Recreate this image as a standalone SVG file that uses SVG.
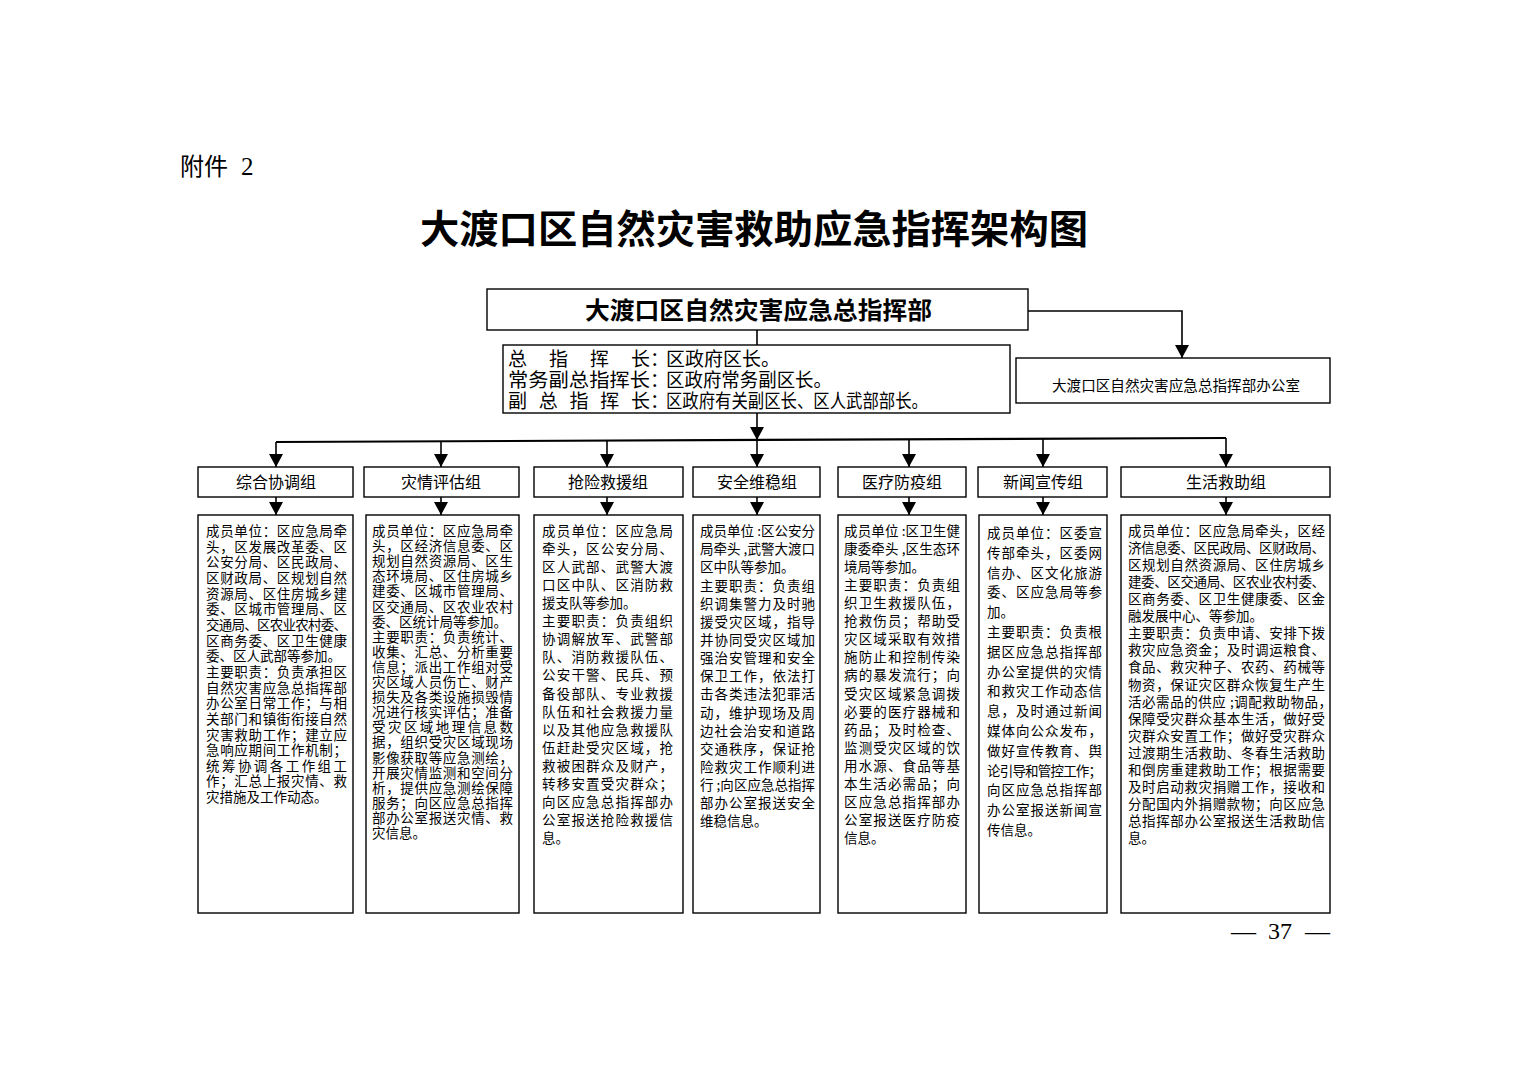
<svg xmlns="http://www.w3.org/2000/svg" width="1520" height="1074" viewBox="0 0 1520 1074">
<style>
.bx{fill:#fff;stroke:#000;stroke-width:1.4}
.t{font-family:"Noto Sans CJK SC","Noto Sans CJK TC",sans-serif;font-size:13.5px;fill:#000}
.g{font-family:"Noto Sans CJK SC","Noto Sans CJK TC",sans-serif;font-size:16px;fill:#000;text-anchor:middle}
.ld{font-family:"Noto Sans CJK SC","Noto Sans CJK TC",sans-serif;font-size:19px;fill:#000}
.hd{font-family:"Noto Sans CJK SC","Noto Sans CJK TC",sans-serif;font-weight:bold;fill:#000}
.conn{stroke:#000;stroke-width:1.6;fill:none}
</style>
<defs>
<marker id="ah" markerUnits="userSpaceOnUse" markerWidth="13" markerHeight="14" viewBox="0 0 13 14" refX="13" refY="7" orient="auto">
<path d="M0,0 L13,7 L0,14 z" fill="#000"/>
</marker>
</defs>
<rect width="1520" height="1074" fill="#fff"/>

<text x="180" y="175" style="font-family:'Noto Sans CJK SC',sans-serif;font-size:24px">附件</text>
<text x="241" y="175" style="font-family:'Liberation Serif',serif;font-size:25px">2</text>
<text x="420" y="243" class="hd" style="font-size:39px" textLength="668" lengthAdjust="spacingAndGlyphs">大渡口区自然灾害救助应急指挥架构图</text>

<g id="connectors">
<path class="conn" d="M757,330 V345"/>
<path class="conn" d="M757,413 V440" marker-end="url(#ah)"/>
<path class="conn" d="M1028,311 H1182 V358" marker-end="url(#ah)"/>
<path d="M276,442 L1226,438" stroke="#000" stroke-width="2.2" fill="none"/>
<path class="conn" d="M276,442 V467" marker-end="url(#ah)"/>
<path class="conn" d="M441,441.3 V467" marker-end="url(#ah)"/>
<path class="conn" d="M607,440.6 V467" marker-end="url(#ah)"/>
<path class="conn" d="M757,440 V467" marker-end="url(#ah)"/>
<path class="conn" d="M909,439.3 V467" marker-end="url(#ah)"/>
<path class="conn" d="M1043,438.8 V467" marker-end="url(#ah)"/>
<path class="conn" d="M1226,438 V467" marker-end="url(#ah)"/>
<path class="conn" d="M276,497 V515" marker-end="url(#ah)"/>
<path class="conn" d="M441,497 V515" marker-end="url(#ah)"/>
<path class="conn" d="M607,497 V515" marker-end="url(#ah)"/>
<path class="conn" d="M757,497 V515" marker-end="url(#ah)"/>
<path class="conn" d="M909,497 V515" marker-end="url(#ah)"/>
<path class="conn" d="M1043,497 V515" marker-end="url(#ah)"/>
<path class="conn" d="M1226,497 V515" marker-end="url(#ah)"/>
</g>

<g id="hq">
<rect class="bx" x="487" y="289" width="541" height="41"/>
<text x="585" y="319" class="hd" style="font-size:24px" textLength="347" lengthAdjust="spacingAndGlyphs">大渡口区自然灾害应急总指挥部</text>
</g>

<g id="leaders">
<rect class="bx" x="503" y="345" width="507" height="68"/>
<text x="508" y="366" class="ld" textLength="142" lengthAdjust="spacing">总指挥长</text>
<text x="650" y="366" class="ld">：</text>
<text x="666" y="366" class="ld">区政府区长。</text>
<text x="508" y="387" class="ld" textLength="142" lengthAdjust="spacingAndGlyphs">常务副总指挥长</text>
<text x="650" y="387" class="ld">：</text>
<text x="666" y="387" class="ld" textLength="166" lengthAdjust="spacingAndGlyphs">区政府常务副区长。</text>
<text x="508" y="408" class="ld" textLength="142" lengthAdjust="spacing">副总指挥长</text>
<text x="650" y="408" class="ld">：</text>
<text x="666" y="408" class="ld" textLength="262" lengthAdjust="spacingAndGlyphs">区政府有关副区长、区人武部部长。</text>
</g>

<g id="office">
<rect class="bx" x="1016" y="358" width="314" height="45"/>
<text x="1052" y="391" class="t" style="font-size:14.5px" textLength="248" lengthAdjust="spacingAndGlyphs">大渡口区自然灾害应急总指挥部办公室</text>
</g>

<g id="grp1">
<rect class="bx" x="198" y="467" width="155" height="30"/>
<text x="276" y="488" class="g">综合协调组</text>
</g>
<g id="grp2">
<rect class="bx" x="364" y="467" width="155" height="30"/>
<text x="441" y="488" class="g">灾情评估组</text>
</g>
<g id="grp3">
<rect class="bx" x="534" y="467" width="149" height="30"/>
<text x="608" y="488" class="g">抢险救援组</text>
</g>
<g id="grp4">
<rect class="bx" x="693" y="467" width="127" height="30"/>
<text x="757" y="488" class="g">安全维稳组</text>
</g>
<g id="grp5">
<rect class="bx" x="838" y="467" width="128" height="30"/>
<text x="902" y="488" class="g">医疗防疫组</text>
</g>
<g id="grp6">
<rect class="bx" x="978" y="467" width="129" height="30"/>
<text x="1043" y="488" class="g">新闻宣传组</text>
</g>
<g id="grp7">
<rect class="bx" x="1121" y="467" width="209" height="30"/>
<text x="1226" y="488" class="g">生活救助组</text>
</g>

<g id="duty1">
<rect class="bx" x="198" y="515" width="155" height="398"/>
<text class="t" x="206" y="536" textLength="141">成员单位：区应急局牵</text>
<text class="t" x="206" y="551.7" textLength="141">头，区发展改革委、区</text>
<text class="t" x="206" y="567.3" textLength="141">公安分局、区民政局、</text>
<text class="t" x="206" y="583" textLength="141">区财政局、区规划自然</text>
<text class="t" x="206" y="598.6" textLength="141">资源局、区住房城乡建</text>
<text class="t" x="206" y="614.3" textLength="141">委、区城市管理局、区</text>
<text class="t" x="206" y="629.9" textLength="141">交通局、区农业农村委、</text>
<text class="t" x="206" y="645.6" textLength="141">区商务委、区卫生健康</text>
<text class="t" x="206" y="661.2">委、区人武部等参加。</text>
<text class="t" x="206" y="676.9" textLength="141">主要职责：负责承担区</text>
<text class="t" x="206" y="692.5" textLength="141">自然灾害应急总指挥部</text>
<text class="t" x="206" y="708.2" textLength="141">办公室日常工作；与相</text>
<text class="t" x="206" y="723.8" textLength="141">关部门和镇街衔接自然</text>
<text class="t" x="206" y="739.5" textLength="141">灾害救助工作；建立应</text>
<text class="t" x="206" y="755.1" textLength="141">急响应期间工作机制；</text>
<text class="t" x="206" y="770.8" textLength="141">统筹协调各工作组工</text>
<text class="t" x="206" y="786.4" textLength="141">作；汇总上报灾情、救</text>
<text class="t" x="206" y="802.1">灾措施及工作动态。</text>
</g>

<g id="duty2">
<rect class="bx" x="366" y="515" width="153" height="398"/>
<text class="t" x="372" y="536" textLength="141">成员单位：区应急局牵</text>
<text class="t" x="372" y="551.1" textLength="141">头，区经济信息委、区</text>
<text class="t" x="372" y="566.2" textLength="141">规划自然资源局、区生</text>
<text class="t" x="372" y="581.3" textLength="141">态环境局、区住房城乡</text>
<text class="t" x="372" y="596.4" textLength="141">建委、区城市管理局、</text>
<text class="t" x="372" y="611.5" textLength="141">区交通局、区农业农村</text>
<text class="t" x="372" y="626.6">委、区统计局等参加。</text>
<text class="t" x="372" y="641.7" textLength="141">主要职责：负责统计、</text>
<text class="t" x="372" y="656.8" textLength="141">收集、汇总、分析重要</text>
<text class="t" x="372" y="671.9" textLength="141">信息；派出工作组对受</text>
<text class="t" x="372" y="687" textLength="141">灾区域人员伤亡、财产</text>
<text class="t" x="372" y="702.1" textLength="141">损失及各类设施损毁情</text>
<text class="t" x="372" y="717.2" textLength="141">况进行核实评估；准备</text>
<text class="t" x="372" y="732.3" textLength="141">受灾区域地理信息数</text>
<text class="t" x="372" y="747.4" textLength="141">据，组织受灾区域现场</text>
<text class="t" x="372" y="762.5" textLength="141">影像获取等应急测绘，</text>
<text class="t" x="372" y="777.6" textLength="141">开展灾情监测和空间分</text>
<text class="t" x="372" y="792.7" textLength="141">析，提供应急测绘保障</text>
<text class="t" x="372" y="807.8" textLength="141">服务；向区应急总指挥</text>
<text class="t" x="372" y="822.9" textLength="141">部办公室报送灾情、救</text>
<text class="t" x="372" y="838">灾信息。</text>
</g>

<g id="duty3">
<rect class="bx" x="534" y="515" width="149" height="398"/>
<text class="t" x="542" y="536" textLength="131">成员单位：区应急局</text>
<text class="t" x="542" y="554.1" textLength="131">牵头，区公安分局、</text>
<text class="t" x="542" y="572.1" textLength="131">区人武部、武警大渡</text>
<text class="t" x="542" y="590.2" textLength="131">口区中队、区消防救</text>
<text class="t" x="542" y="608.2">援支队等参加。</text>
<text class="t" x="542" y="626.3" textLength="131">主要职责：负责组织</text>
<text class="t" x="542" y="644.3" textLength="131">协调解放军、武警部</text>
<text class="t" x="542" y="662.4" textLength="131">队、消防救援队伍、</text>
<text class="t" x="542" y="680.4" textLength="131">公安干警、民兵、预</text>
<text class="t" x="542" y="698.5" textLength="131">备役部队、专业救援</text>
<text class="t" x="542" y="716.5" textLength="131">队伍和社会救援力量</text>
<text class="t" x="542" y="734.6" textLength="131">以及其他应急救援队</text>
<text class="t" x="542" y="752.6" textLength="131">伍赶赴受灾区域，抢</text>
<text class="t" x="542" y="770.7" textLength="131">救被困群众及财产，</text>
<text class="t" x="542" y="788.7" textLength="131">转移安置受灾群众；</text>
<text class="t" x="542" y="806.8" textLength="131">向区应急总指挥部办</text>
<text class="t" x="542" y="824.8" textLength="131">公室报送抢险救援信</text>
<text class="t" x="542" y="842.9">息。</text>
</g>

<g id="duty4">
<rect class="bx" x="693" y="515" width="127" height="398"/>
<text class="t" x="700" y="536" textLength="115">成员单位 :区公安分</text>
<text class="t" x="700" y="554.2" textLength="115">局牵头 ,武警大渡口</text>
<text class="t" x="700" y="572.3">区中队等参加。</text>
<text class="t" x="700" y="590.5" textLength="115">主要职责：负责组</text>
<text class="t" x="700" y="608.6" textLength="115">织调集警力及时驰</text>
<text class="t" x="700" y="626.8" textLength="115">援受灾区域，指导</text>
<text class="t" x="700" y="644.9" textLength="115">并协同受灾区域加</text>
<text class="t" x="700" y="663.1" textLength="115">强治安管理和安全</text>
<text class="t" x="700" y="681.2" textLength="115">保卫工作，依法打</text>
<text class="t" x="700" y="699.4" textLength="115">击各类违法犯罪活</text>
<text class="t" x="700" y="717.5" textLength="115">动，维护现场及周</text>
<text class="t" x="700" y="735.7" textLength="115">边社会治安和道路</text>
<text class="t" x="700" y="753.8" textLength="115">交通秩序，保证抢</text>
<text class="t" x="700" y="772" textLength="115">险救灾工作顺利进</text>
<text class="t" x="700" y="790.1" textLength="115">行 ;向区应急总指挥</text>
<text class="t" x="700" y="808.3" textLength="115">部办公室报送安全</text>
<text class="t" x="700" y="826.4">维稳信息。</text>
</g>

<g id="duty5">
<rect class="bx" x="838" y="515" width="128" height="398"/>
<text class="t" x="844" y="536" textLength="116">成员单位 :区卫生健</text>
<text class="t" x="844" y="554.1" textLength="116">康委牵头 ,区生态环</text>
<text class="t" x="844" y="572.1">境局等参加。</text>
<text class="t" x="844" y="590.2" textLength="116">主要职责：负责组</text>
<text class="t" x="844" y="608.2" textLength="116">织卫生救援队伍，</text>
<text class="t" x="844" y="626.3" textLength="116">抢救伤员；帮助受</text>
<text class="t" x="844" y="644.3" textLength="116">灾区域采取有效措</text>
<text class="t" x="844" y="662.4" textLength="116">施防止和控制传染</text>
<text class="t" x="844" y="680.4" textLength="116">病的暴发流行；向</text>
<text class="t" x="844" y="698.5" textLength="116">受灾区域紧急调拨</text>
<text class="t" x="844" y="716.5" textLength="116">必要的医疗器械和</text>
<text class="t" x="844" y="734.6" textLength="116">药品；及时检查、</text>
<text class="t" x="844" y="752.6" textLength="116">监测受灾区域的饮</text>
<text class="t" x="844" y="770.7" textLength="116">用水源、食品等基</text>
<text class="t" x="844" y="788.7" textLength="116">本生活必需品；向</text>
<text class="t" x="844" y="806.8" textLength="116">区应急总指挥部办</text>
<text class="t" x="844" y="824.8" textLength="116">公室报送医疗防疫</text>
<text class="t" x="844" y="842.9">信息。</text>
</g>

<g id="duty6">
<rect class="bx" x="979" y="515" width="128" height="398"/>
<text class="t" x="987" y="538" textLength="115">成员单位：区委宣</text>
<text class="t" x="987" y="557.8" textLength="115">传部牵头，区委网</text>
<text class="t" x="987" y="577.6" textLength="115">信办、区文化旅游</text>
<text class="t" x="987" y="597.4" textLength="115">委、区应急局等参</text>
<text class="t" x="987" y="617.2">加。</text>
<text class="t" x="987" y="637" textLength="115">主要职责：负责根</text>
<text class="t" x="987" y="656.8" textLength="115">据区应急总指挥部</text>
<text class="t" x="987" y="676.6" textLength="115">办公室提供的灾情</text>
<text class="t" x="987" y="696.4" textLength="115">和救灾工作动态信</text>
<text class="t" x="987" y="716.2" textLength="115">息，及时通过新闻</text>
<text class="t" x="987" y="736" textLength="115">媒体向公众发布，</text>
<text class="t" x="987" y="755.8" textLength="115">做好宣传教育、舆</text>
<text class="t" x="987" y="775.6" textLength="115">论引导和管控工作；</text>
<text class="t" x="987" y="795.4" textLength="115">向区应急总指挥部</text>
<text class="t" x="987" y="815.2" textLength="115">办公室报送新闻宣</text>
<text class="t" x="987" y="835">传信息。</text>
</g>

<g id="duty7">
<rect class="bx" x="1121" y="515" width="209" height="398"/>
<text class="t" x="1128" y="536" textLength="197">成员单位：区应急局牵头，区经</text>
<text class="t" x="1128" y="553.1" textLength="197">济信息委、区民政局、区财政局、</text>
<text class="t" x="1128" y="570.1" textLength="197">区规划自然资源局、区住房城乡</text>
<text class="t" x="1128" y="587.2" textLength="197">建委、区交通局、区农业农村委、</text>
<text class="t" x="1128" y="604.2" textLength="197">区商务委、区卫生健康委、区金</text>
<text class="t" x="1128" y="621.3">融发展中心、等参加。</text>
<text class="t" x="1128" y="638.3" textLength="197">主要职责：负责申请、安排下拨</text>
<text class="t" x="1128" y="655.4" textLength="197">救灾应急资金；及时调运粮食、</text>
<text class="t" x="1128" y="672.4" textLength="197">食品、救灾种子、农药、药械等</text>
<text class="t" x="1128" y="689.5" textLength="197">物资，保证灾区群众恢复生产生</text>
<text class="t" x="1128" y="706.5" textLength="204">活必需品的供应 ;调配救助物品，</text>
<text class="t" x="1128" y="723.6" textLength="197">保障受灾群众基本生活，做好受</text>
<text class="t" x="1128" y="740.6" textLength="197">灾群众安置工作；做好受灾群众</text>
<text class="t" x="1128" y="757.7" textLength="197">过渡期生活救助、冬春生活救助</text>
<text class="t" x="1128" y="774.7" textLength="197">和倒房重建救助工作；根据需要</text>
<text class="t" x="1128" y="791.8" textLength="197">及时启动救灾捐赠工作，接收和</text>
<text class="t" x="1128" y="808.8" textLength="197">分配国内外捐赠款物；向区应急</text>
<text class="t" x="1128" y="825.9" textLength="197">总指挥部办公室报送生活救助信</text>
<text class="t" x="1128" y="842.9">息。</text>
</g>

<g id="footer" style="font-family:'Liberation Serif',serif;font-size:24px">
<text x="1231" y="939" textLength="25" lengthAdjust="spacingAndGlyphs">—</text>
<text x="1268" y="939" textLength="24" lengthAdjust="spacingAndGlyphs">37</text>
<text x="1305" y="939" textLength="25" lengthAdjust="spacingAndGlyphs">—</text>
</g>
</svg>
